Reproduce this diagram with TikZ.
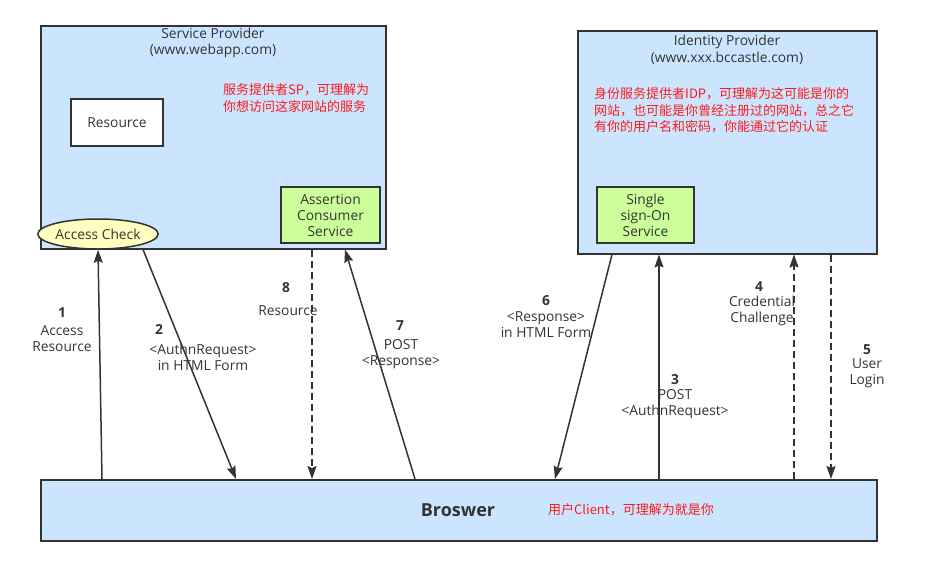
\documentclass[tikz,border=0pt]{standalone}
\usepackage{fontspec}
\setmainfont{Open Sans}
\newfontfamily\cjk{Noto Sans CJK SC}
\usetikzlibrary{arrows.meta, positioning, shapes.geometric}
\definecolor{zoneblue}{HTML}{CCE5FF}
\definecolor{svcgreen}{HTML}{CCFF99}
\definecolor{chkyellow}{HTML}{FFFFC0}
\definecolor{inkgray}{HTML}{333333}
\definecolor{memored}{HTML}{FF1A1A}

\begin{document}
\begin{tikzpicture}[
    x=1pt, y=-1pt,
    every node/.style={text=inkgray, font=\fontsize{13.8}{16}\selectfont},
    zone/.style={draw=inkgray, line width=1.5pt, fill=zoneblue, anchor=north west, inner sep=0pt},
    svc/.style={draw=inkgray, line width=1.5pt, fill=svcgreen, align=center, minimum width=97pt, minimum height=56pt, inner sep=0pt},
    num/.style={font=\fontsize{13.8}{16}\selectfont\bfseries},
    lbl/.style={align=center, inner sep=0pt},
    memo/.style={text=memored, align=left, anchor=west, inner sep=0pt, font=\cjk\fontsize{13}{16.5}\selectfont},
    flow/.style={draw=inkgray, line width=1.5pt, -{Stealth[length=13pt, width=9pt, inset=2pt]}},
    back/.style={flow, dash pattern=on 7pt off 4pt}
  ]
  \useasboundingbox (0,0) rectangle (948,565);

  % service provider
  \node[zone, minimum width=345pt, minimum height=223pt] (sp) at (40,25) {};
  \node[lbl] (sptitle) at (213,43) {Service Provider\\(www.webapp.com)};
  \node[memo] (spmemo) at (223,98) {服务提供者SP，可理解为\\你想访问这家网站的服务};
  \node[draw=inkgray, line width=1.5pt, fill=white, minimum width=92pt, minimum height=47pt] (res) at (117,122.5) {Resource};
  \node[svc, minimum width=99pt] (acs) at (330.5,215) {Assertion\\Consumer\\Service};
  \node[ellipse, draw=inkgray, line width=1.5pt, fill=chkyellow, minimum width=117pt, minimum height=30pt, inner sep=0pt] (check) at (98,234) {Access Check};

  % identity provider
  \node[zone, minimum width=299pt, minimum height=223pt] (idp) at (577,30) {};
  \node[lbl, font=\fontsize{13.8}{17}\selectfont] (idptitle) at (727,49.5) {Identity Provider\\(www.xxx.bccastle.com)};
  \node[memo] (idpmemo) at (594,110.5) {身份服务提供者IDP，可理解为这可能是你的\\网站，也可能是你曾经注册过的网站，总之它\\有你的用户名和密码，你能通过它的认证};
  \node[svc] (sso) at (645.5,215) {Single\\sign-On\\Service};

  % browser
  \node[zone, minimum width=836pt, minimum height=61pt] (browser) at (40,479) {};
  \node[font=\fontsize{18}{20}\selectfont\bfseries] (bname) at (458,510) {Broswer};
  \node[memo] (bmemo) at (548,510) {用户Client，可理解为就是你};

  % messages
  \draw[flow] ([xshift=62pt]browser.north west) -- (check.south);
  \draw[flow] ([xshift=103pt]sp.south west) -- ([xshift=196pt]browser.north west);
  \draw[flow] ([xshift=619pt]browser.north west) -- ([xshift=82pt]idp.south west);
  \draw[back] ([xshift=754pt]browser.north west) -- ([xshift=217pt]idp.south west);
  \draw[back] ([xshift=254pt]idp.south west) -- ([xshift=791pt]browser.north west);
  \draw[flow] ([xshift=35pt]idp.south west) -- ([xshift=515pt]browser.north west);
  \draw[flow] ([xshift=375pt]browser.north west) -- ([xshift=305pt]sp.south west);
  \draw[back] ([xshift=272pt]sp.south west) -- ([xshift=272pt]browser.north west);

  % message labels
  \node[num] (n1) at (62,313) {1};
  \node[lbl] (t1) at (62,339) {Access\\Resource};
  \node[num] (n2) at (159,329) {2};
  \node[lbl] (t2) at (203,357) {<AuthnRequest>\\in HTML Form};
  \node[num] (n3) at (675,380) {3};
  \node[lbl] (t3) at (675,404) {POST\\<AuthnRequest>};
  \node[num] (n4) at (759,287) {4};
  \node[lbl] (t4) at (762,311) {Credential\\Challenge};
  \node[num] (n5) at (867,350) {5};
  \node[lbl] (t5) at (867,373.5) {User\\Login};
  \node[num] (n6) at (546,301) {6};
  \node[lbl] (t6) at (546,324.5) {<Response>\\in HTML Form};
  \node[num] (n7) at (400,326) {7};
  \node[lbl] (t7) at (401,354) {POST\\<Response>};
  \node[num] (n8) at (286,288) {8};
  \node[lbl] (t8) at (288,311) {Resource};

\end{tikzpicture}
\end{document}
